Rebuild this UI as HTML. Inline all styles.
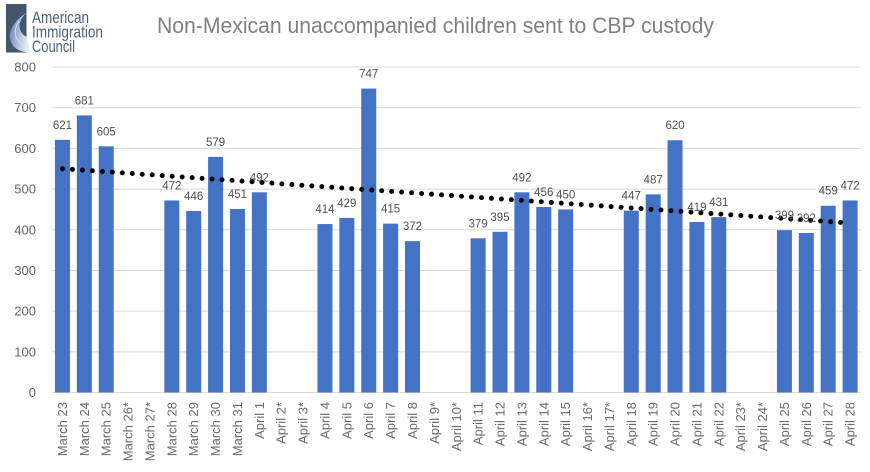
<!DOCTYPE html>
<html lang="en">
<head>
<meta charset="utf-8">
<title>Non-Mexican unaccompanied children sent to CBP custody</title>
<style>
html,body{margin:0;padding:0;background:#fff;width:870px;height:472px;overflow:hidden}
svg{display:block}
text{font-family:"Liberation Sans",sans-serif}
</style>
</head>
<body>
<svg id="chart" width="870" height="472" viewBox="0 0 870 472" xmlns="http://www.w3.org/2000/svg">
  <defs>
    <linearGradient id="crescentFill" x1="0" y1="0" x2="1" y2="0.3">
      <stop offset="0" stop-color="#5f7fb8"/>
      <stop offset="0.55" stop-color="#a9bddb"/>
      <stop offset="1" stop-color="#e6ecf5"/>
    </linearGradient>
  </defs>
  <g id="logo">
    <rect x="6" y="4" width="20.5" height="48.5" fill="#44566a"/>
    <path d="M26 13 C15 20 9 30 10 38 C11 46 17 52 30 52.5 L27 37 C20 34 15 24 26 13 Z" fill="url(#crescentFill)"/>
    <path d="M19 21 C12 32 15 42 27 47" fill="none" stroke="#dfe6f1" stroke-width="0.8"/>
    <text x="32" y="23" font-size="16.5" fill="#4a5f78" textLength="57" lengthAdjust="spacingAndGlyphs">American</text>
    <text x="32" y="37.5" font-size="16.5" fill="#4a5f78" textLength="71" lengthAdjust="spacingAndGlyphs">Immigration</text>
    <text x="32" y="52" font-size="16.5" fill="#4a5f78" textLength="43" lengthAdjust="spacingAndGlyphs">Council</text>
  </g>
  <text x="157" y="33" font-size="22" fill="#808080" textLength="557" lengthAdjust="spacingAndGlyphs">Non-Mexican unaccompanied children sent to CBP custody</text>
  <g id="grid"></g>
  <g id="yAxis"></g>
  <g id="bars"></g>
  <g id="trend"></g>
  <g id="labels"></g>
  <g id="xAxis"></g>
</svg>
<script>
const categories = ["March 23","March 24","March 25","March 26*","March 27*","March 28","March 29","March 30","March 31","April 1","April 2*","April 3*","April 4","April 5","April 6","April 7","April 8","April 9*","April 10*","April 11","April 12","April 13","April 14","April 15","April 16*","April 17*","April 18","April 19","April 20","April 21","April 22","April 23*","April 24*","April 25","April 26","April 27","April 28"];
const values = [621,681,605,null,null,472,446,579,451,492,null,null,414,429,747,415,372,null,null,379,395,492,456,450,null,null,447,487,620,419,431,null,null,399,392,459,472];
const yTicks = [0,100,200,300,400,500,600,700,800];
const trendValues = [550,418];

const NS = "http://www.w3.org/2000/svg";
const plotLeft = 51.5, plotRight = 861, plotTop = 67, plotBottom = 392.5, yMax = 800;
const step = (plotRight - plotLeft) / categories.length;
const barWidth = 15;
const xScale = i => plotLeft + step * (i + 0.5);
const yScale = v => plotBottom - (v / yMax) * (plotBottom - plotTop);
function make(tag, attrs, parent, content) {
  const el = document.createElementNS(NS, tag);
  for (const k in attrs) el.setAttribute(k, attrs[k]);
  if (content !== undefined) el.textContent = content;
  parent.appendChild(el);
  return el;
}
const gridG = document.getElementById("grid");
const yG = document.getElementById("yAxis");
const barsG = document.getElementById("bars");
const trendG = document.getElementById("trend");
const labelsG = document.getElementById("labels");
const xG = document.getElementById("xAxis");

yTicks.forEach(t => {
  const line = make("line", {x1: plotLeft, x2: plotRight, y1: yScale(t), y2: yScale(t), stroke: "#d9d9d9", "stroke-width": 1}, gridG);
  
  
  const lab = make("text", {x: 36, y: yScale(t) + 4.5, "text-anchor": "end", "font-size": 13, fill: "#636363"}, yG, String(t));
  
  
});

categories.forEach((c, i) => {
  const cx = xScale(i);
  const lab = make("text", {x: 0, y: 0, transform: "translate(" + (cx + 4.5) + ",402) rotate(-90)", "text-anchor": "end", "font-size": 13, fill: "#6a6a6a"}, xG, c);
  
  
  const v = values[i];
  if (v === null) return;
  const bar = make("rect", {x: cx - barWidth / 2, y: yScale(v), width: barWidth, height: plotBottom - yScale(v), fill: "#4472c4"}, barsG);
  
  
  const val = make("text", {x: cx, y: yScale(v) - 11, "text-anchor": "middle", "font-size": 11.5, fill: "#505050"}, labelsG, String(v));
  
  
});

const trendLine = make("line", {x1: xScale(0), y1: yScale(trendValues[0]), x2: xScale(categories.length - 1) - 9, y2: yScale(trendValues[1]), stroke: "#000", "stroke-width": 5, "stroke-linecap": "round", "stroke-dasharray": "0 10"}, trendG);


</script>
</body>
</html>
